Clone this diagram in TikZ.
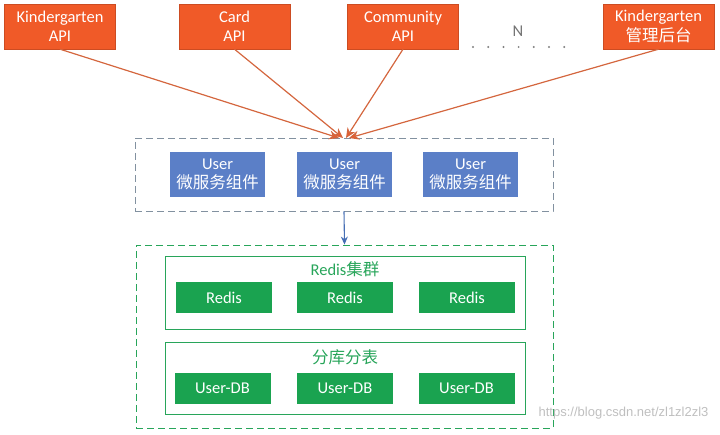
\documentclass[tikz,border=0pt]{standalone}
\usepackage{fontspec}
\setmainfont{Carlito}
\newfontfamily\cjk{Noto Sans CJK SC}
\newfontfamily\wmfont{Liberation Sans}
\usetikzlibrary{arrows.meta}

\definecolor{apiorange}{RGB}{240,90,40}
\definecolor{apiline}{RGB}{212,102,62}
\definecolor{svcblue}{RGB}{91,127,199}
\definecolor{svcline}{RGB}{70,110,180}
\definecolor{dashgray}{RGB}{130,145,160}
\definecolor{storegreen}{RGB}{26,163,80}
\definecolor{groupgreen}{RGB}{40,165,90}

\begin{document}
\begin{tikzpicture}[%
		x=1pt,
		y=-1pt,
		font=\fontsize{16.5}{19.5}\selectfont,
		apibox/.style={%
			fill=apiorange,
			draw=apiorange!85!black,
			text=white,
			minimum width=111pt,
			minimum height=45pt,
			inner sep=0pt,
			align=center
		},
		svcbox/.style={%
			fill=svcblue,
			text=white,
			minimum width=95pt,
			minimum height=45pt,
			inner sep=0pt,
			align=center
		},
		storebox/.style={%
			fill=storegreen,
			text=white,
			minimum width=96pt,
			minimum height=31pt,
			inner sep=0pt
		},
		groupbox/.style={%
			draw=groupgreen,
			line width=0.8pt,
			minimum width=360pt,
			inner sep=0pt
		},
		layer/.style={%
			draw,
			dash pattern=on 7pt off 4pt,
			line width=0.9pt,
			inner sep=0pt
		},
		request/.style={%
			draw=apiline,
			line width=1.2pt,
			-{Stealth[length=10pt,width=9pt,fill=apiorange]}
		}
		]
		\useasboundingbox (0,0) rectangle (720,435);

		% callers
		\node[apibox] (kapi) at (60,26.5)    {Kindergarten\\API};
		\node[apibox] (capi) at (234.5,26.5) {Card\\API};
		\node[apibox] (mapi) at (403,26.5)   {Community\\API};
		\node[apibox] (kadm) at (658.5,26.5) {Kindergarten\\{\cjk 管理后台}};

		\node[text=black!55] (more) at (518,31) {N};
		\foreach \k in {0,...,6}
			\fill[black!50] (473+15.2*\k,47) circle (1.1pt);

		% service layer
		\node[layer, draw=dashgray, minimum width=418pt, minimum height=73pt] (svc) at (344,174.5) {};
		\node[svcbox] (u1) at (217.5,174.5) {User\\{\cjk 微服务组件}};
		\node[svcbox] (u2) at (344.5,174.5) {User\\{\cjk 微服务组件}};
		\node[svcbox] (u3) at (470.5,174.5) {User\\{\cjk 微服务组件}};

		\coordinate (in1) at (339,138);
		\coordinate (in2) at (343,138);
		\coordinate (in3) at (346,138);
		\coordinate (in4) at (349,138);

		\draw[request] (kapi.south) -- (in1);
		\draw[request] (capi.south) -- (in2);
		\draw[request] (mapi.south) -- (in3);
		\draw[request] (kadm.south) -- (in4);

		% storage layer
		\node[layer, draw=groupgreen, minimum width=417pt, minimum height=183pt] (store) at (344.5,336.5) {};

		\node[groupbox, minimum height=73pt] (cache) at (345,292.5) {};
		\node[text=groupgreen] (cachelbl) at (345,269) {Redis{\cjk 集群}};
		\node[storebox] (r1) at (224,297.5) {Redis};
		\node[storebox] (r2) at (345,297.5) {Redis};
		\node[storebox] (r3) at (467,297.5) {Redis};

		\node[groupbox, minimum height=72pt] (shard) at (345,378.5) {};
		\node[text=groupgreen] (shardlbl) at (345,357) {\cjk 分库分表};
		\node[storebox] (d1) at (222.5,388.5) {User-DB};
		\node[storebox] (d2) at (345,388.5)   {User-DB};
		\node[storebox] (d3) at (466.5,388.5) {User-DB};

		\draw[svcline, line width=1.1pt, -{Stealth[length=8pt,width=7pt]}] (svc.south) -- (store.north);

		\node[text=black!25, font=\wmfont\fontsize{13}{15}\selectfont, anchor=east] (mark) at (712,413) {https://blog.csdn.net/zl1zl2zl3};
\end{tikzpicture}
\end{document}
